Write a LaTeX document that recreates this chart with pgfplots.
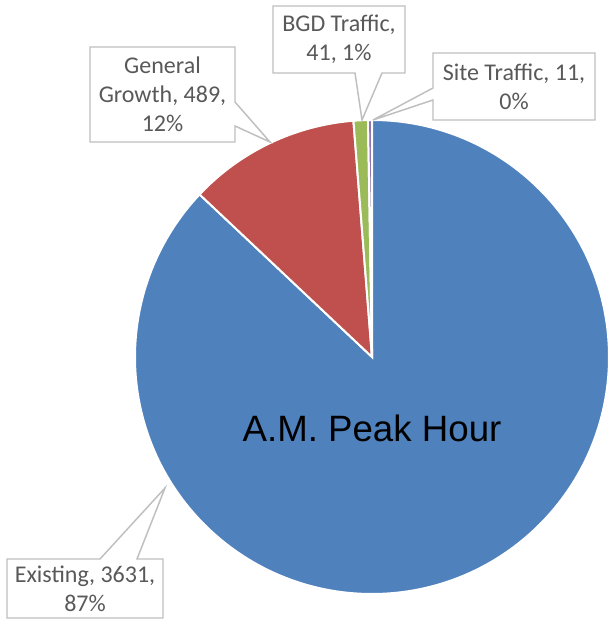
\documentclass[border=0pt]{standalone}
\usepackage{pgfplots}
\usepackage{pgfplotstable}
\pgfplotsset{compat=1.18}
\usepackage{fontspec}
\setmainfont{Carlito}
\newfontfamily\arialfont{Liberation Sans}
\definecolor{pblue}{HTML}{4F81BD}
\definecolor{pred}{HTML}{C0504D}
\definecolor{pgreen}{HTML}{9BBB59}
\definecolor{ppurple}{HTML}{8064A2}
\definecolor{lbltxt}{HTML}{595959}
\definecolor{lblbox}{HTML}{BFBFBF}
\pgfplotstableread[col sep=comma]{
name,value
Existing,3631
General Growth,489
BGD Traffic,41
Site Traffic,11
}\pietable
\pgfplotstablegetelem{0}{value}\of\pietable\let\vA\pgfplotsretval
\pgfplotstablegetelem{1}{value}\of\pietable\let\vB\pgfplotsretval
\pgfplotstablegetelem{2}{value}\of\pietable\let\vC\pgfplotsretval
\pgfplotstablegetelem{3}{value}\of\pietable\let\vD\pgfplotsretval
\pgfmathsetmacro\tot{\vA+\vB+\vC+\vD}
\pgfmathsetmacro\aA{90-360*(\vA/\tot)}
\pgfmathsetmacro\aB{\aA-360*(\vB/\tot)}
\pgfmathsetmacro\aC{\aB-360*(\vC/\tot)}
\pgfmathsetmacro\aD{\aC-360*(\vD/\tot)}
\def\cx{372}\def\cy{269}\def\rr{237}
\def\R{177.75pt}
\begin{document}%
\begin{tikzpicture}
\begin{axis}[
  width=457.5pt, height=469.5pt, scale only axis,
  xmin=0, xmax=610, ymin=0, ymax=626,
  enlargelimits=false, hide axis, clip=false]
\path (axis cs:0,0) rectangle (axis cs:610,626);
% slices
\fill[pblue,draw=white,line width=1.5pt] (axis cs:\cx,\cy) -- (axis cs:{\cx+\rr*cos(90)},{\cy+\rr*sin(90)}) arc[start angle=90,end angle=\aA,radius=\R] -- cycle;
\fill[pred,draw=white,line width=1.5pt] (axis cs:\cx,\cy) -- (axis cs:{\cx+\rr*cos(\aA)},{\cy+\rr*sin(\aA)}) arc[start angle=\aA,end angle=\aB,radius=\R] -- cycle;
\fill[pgreen,draw=white,line width=1.5pt] (axis cs:\cx,\cy) -- (axis cs:{\cx+\rr*cos(\aB)},{\cy+\rr*sin(\aB)}) arc[start angle=\aB,end angle=\aC,radius=\R] -- cycle;
\fill[ppurple,draw=white,line width=1.5pt] (axis cs:\cx,\cy) -- (axis cs:{\cx+\rr*cos(\aC)},{\cy+\rr*sin(\aC)}) arc[start angle=\aC,end angle=\aD,radius=\R] -- cycle;
% title
\node[font=\arialfont\fontsize{27.5}{32}\selectfont,text=black] at (axis cs:372,198) {A.M. Peak Hour};
% callouts
\tikzset{callout/.style={draw=lblbox,fill=white,line width=1.1pt,line join=miter}}
\tikzset{lbl/.style={text=lbltxt,align=center,font=\fontsize{18}{21.75}\selectfont,inner sep=0pt}}
% General Growth
\draw[callout] (axis cs:90,579) -- (axis cs:235,579) -- (axis cs:235,524) -- (axis cs:270,484) -- (axis cs:235,500) -- (axis cs:235,484) -- (axis cs:90,484) -- cycle;
\node[lbl] at (axis cs:162.5,531.5) {General\\Growth, 489,\\12\%};
% BGD Traffic
\draw[callout] (axis cs:273,620) -- (axis cs:405,620) -- (axis cs:405,553) -- (axis cs:382,553) -- (axis cs:362,506) -- (axis cs:355,553) -- (axis cs:273,553) -- cycle;
\node[lbl] at (axis cs:339,586.5) {BGD Traffic,\\41, 1\%};
% Site Traffic
\draw[callout] (axis cs:433,573) -- (axis cs:595,573) -- (axis cs:595,506) -- (axis cs:433,506) -- (axis cs:433,526) -- (axis cs:373,506) -- (axis cs:433,538) -- cycle;
\node[lbl] at (axis cs:514,539.5) {Site Traffic, 11,\\0\%};
% Existing
\draw[callout] (axis cs:7,67) -- (axis cs:100,67) -- (axis cs:165,138) -- (axis cs:137,67) -- (axis cs:163,67) -- (axis cs:163,8) -- (axis cs:7,8) -- cycle;
\node[lbl] at (axis cs:85,37.5) {Existing, 3631,\\87\%};
\end{axis}
\end{tikzpicture}%
\end{document}
